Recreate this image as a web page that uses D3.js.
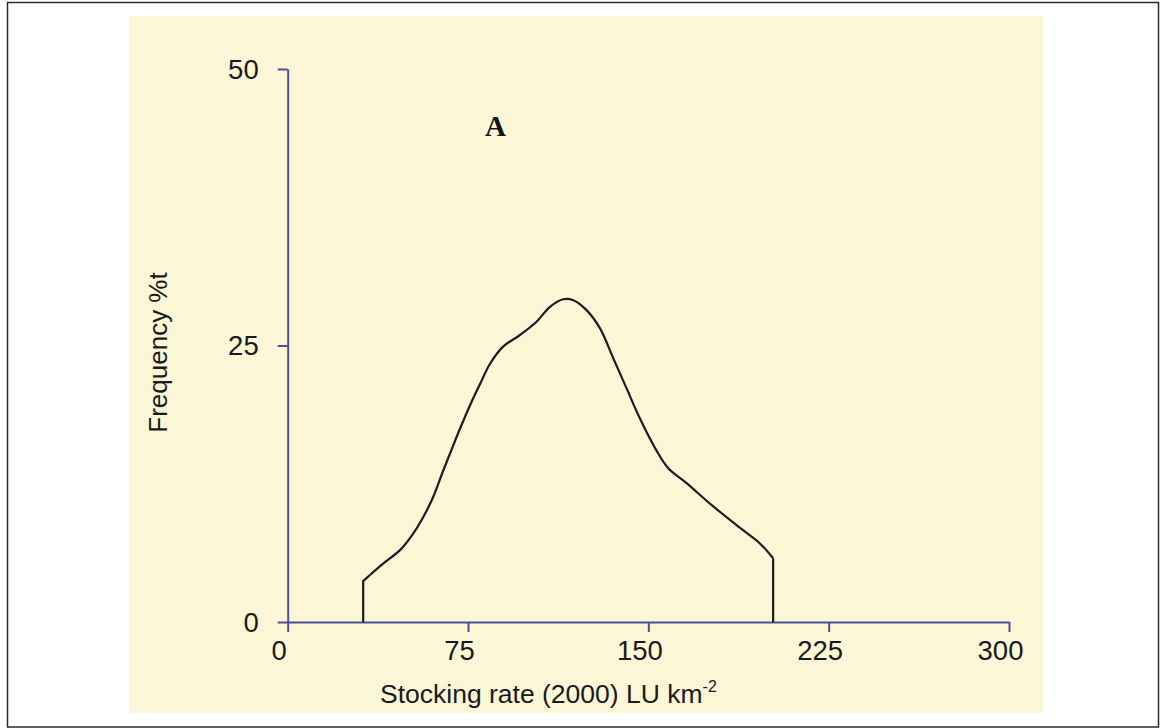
<!DOCTYPE html>
<html>
<head>
<meta charset="utf-8">
<script src="https://cdn.jsdelivr.net/npm/d3@7"></script>
<style>
  html, body { margin: 0; padding: 0; background: #ffffff; }
  svg { display: block; }
</style>
</head>
<body>
<svg id="chart" width="1160" height="728"></svg>
<script>
// ---- data ----
const xTicks = [0, 75, 150, 225, 300];
const yTicks = [0, 25, 50];
const curveX = [31.4, 34.2, 39.8, 46.7, 52.2, 56.4, 60.5, 64.7, 68.9, 73.0, 77.2, 80.0, 84.1, 89.6, 96.6, 103.5, 109.1, 114.6, 118.8, 124.3, 129.9, 135.4, 141.0, 146.5, 153.4, 158.3, 165.9, 177.0, 189.4, 196.4, 201.9];
const curveY = [3.7, 4.25, 5.3, 6.5, 8.0, 9.5, 11.3, 13.7, 16.0, 18.17, 20.25, 21.52, 23.33, 24.9, 25.95, 27.15, 28.5, 29.18, 29.1, 28.2, 26.55, 23.85, 21.1, 18.4, 15.5, 13.9, 12.55, 10.45, 8.3, 7.1, 5.76];
const xTitle = "Stocking rate (2000) LU km";
const xTitleSup = "-2";
const yTitle = "Frequency %t";
const panelLabel = "A";

// ---- drawing ----
const svg = d3.select("#chart");
const axisColor = "#4f4f95";
const font = "'Liberation Sans', Arial, sans-serif";

// outer frame
svg.append("rect").attr("x", 7.5).attr("y", 2.5).attr("width", 1151).attr("height", 724.5)
  .attr("fill", "#ffffff").attr("stroke", "#2a2a2a").attr("stroke-width", 1.5);
// yellow panel
svg.append("rect").attr("x", 129).attr("y", 16).attr("width", 914).attr("height", 697)
  .attr("fill", "#fbf6d6");

const x = d3.scaleLinear().domain([0, 300]).range([287.7, 1009]);
const y = d3.scaleLinear().domain([0, 50]).range([622, 69]);

// x axis
const gx = svg.append("g").attr("transform", `translate(0,${y(0)})`)
  .call(d3.axisBottom(x).tickValues(xTicks).tickSize(10).tickSizeOuter(0).tickPadding(8));
// y axis
const gy = svg.append("g").attr("transform", `translate(${x(0)},0)`)
  .call(d3.axisLeft(y).tickValues(yTicks).tickSize(10).tickSizeOuter(0).tickPadding(19));

[gx, gy].forEach(g => {
  g.select(".domain").attr("stroke", axisColor).attr("stroke-width", 2);
  g.selectAll(".tick line").attr("stroke", axisColor).attr("stroke-width", 2);
  g.selectAll(".tick text").attr("fill", "#1a1a1a").style("font-family", font).style("font-size", "27.5px");
});
gy.selectAll(".tick text").attr("dy", "0.33em");
gx.selectAll(".tick text").attr("x", -9);

// curve
const pts = curveX.map((v, i) => [v, curveY[i]]);
const smooth = d3.line().x(d => x(d[0])).y(d => y(d[1])).curve(d3.curveCatmullRom.alpha(0.5));
const straight = d3.line().x(d => x(d[0])).y(d => y(d[1]));
const n = pts.length;
svg.append("path").attr("d", straight([[pts[0][0], 0], pts[0], pts[1]]))
  .attr("fill", "none").attr("stroke", "#1c1c1c").attr("stroke-width", 2.2);
svg.append("path").attr("d", smooth(pts.slice(1)))
  .attr("fill", "none").attr("stroke", "#1c1c1c").attr("stroke-width", 2.2);
svg.append("path").attr("d", straight([pts[n - 1], [pts[n - 1][0], 0]]))
  .attr("fill", "none").attr("stroke", "#1c1c1c").attr("stroke-width", 2.2);

// x title with superscript
const xt = svg.append("text").attr("x", 380).attr("y", 703)
  .attr("fill", "#1a1a1a").style("font-family", font).style("font-size", "26.5px");
xt.append("tspan").text(xTitle);
xt.append("tspan").attr("dy", -11).style("font-size", "16px").text(xTitleSup);

// y title
svg.append("text").attr("transform", "translate(167,352.5) rotate(-90)")
  .attr("text-anchor", "middle").attr("fill", "#1a1a1a")
  .style("font-family", font).style("font-size", "26px").text(yTitle);

// panel label
svg.append("text").attr("x", 495.5).attr("y", 136).attr("text-anchor", "middle")
  .attr("fill", "#111").style("font-family", "'Liberation Serif', 'Times New Roman', serif")
  .style("font-weight", "bold").style("font-size", "29px").text(panelLabel);
</script>
</body>
</html>
